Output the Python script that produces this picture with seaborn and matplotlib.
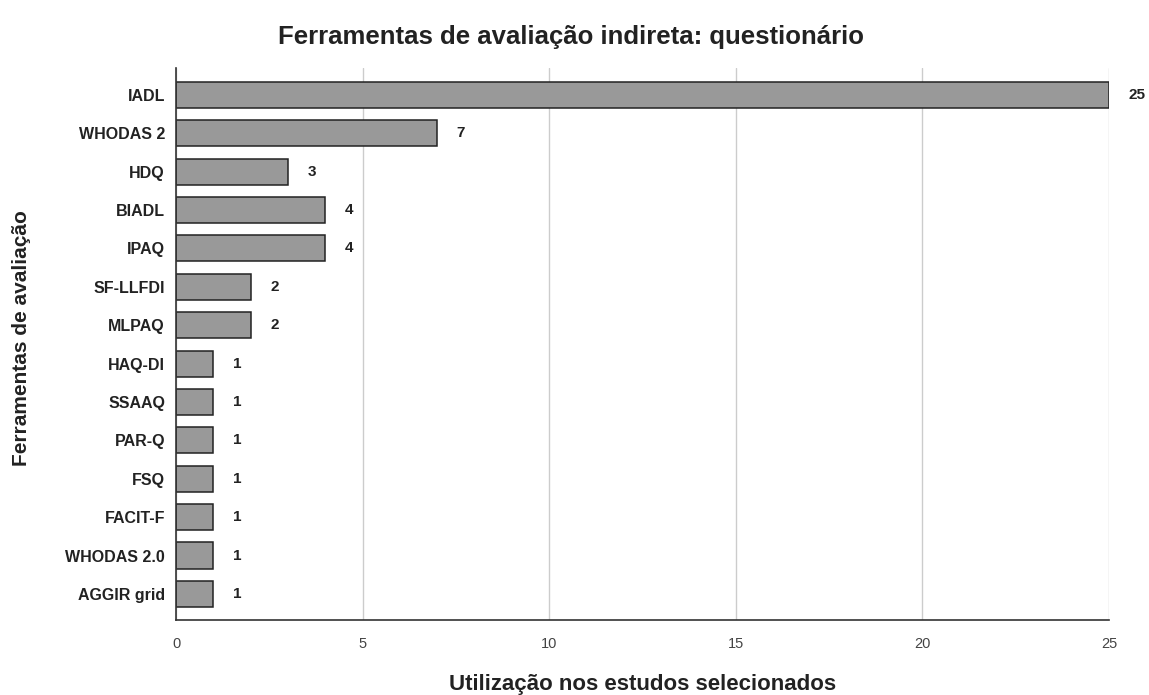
import matplotlib
matplotlib.use("Agg")
import matplotlib.pyplot as plt
import seaborn as sns
import pandas as pd

categories = ["IADL", "WHODAS 2", "HDQ", "BIADL", "IPAQ", "SF-LLFDI", "MLPAQ",
              "HAQ-DI", "SSAAQ", "PAR-Q", "FSQ", "FACIT-F", "WHODAS 2.0", "AGGIR grid"]
values = [25, 7, 3, 4, 4, 2, 2, 1, 1, 1, 1, 1, 1, 1]
x_ticks = [0, 5, 10, 15, 20, 25]

title = "Ferramentas de avaliação indireta: questionário"
xlabel = "Utilização nos estudos selecionados"
ylabel = "Ferramentas de avaliação"

sns.set_theme(style="white")
plt.rcParams["font.family"] = ["Liberation Sans", "DejaVu Sans"]

df = pd.DataFrame({"cat": categories, "val": values})

fig = plt.figure(figsize=(11.49, 6.95), dpi=100)
ax = fig.add_axes([0.1532, 0.1079, 0.8120, 0.7943])

sns.barplot(data=df, x="val", y="cat", orient="h", color="#999999",
            saturation=1, width=0.68, edgecolor="#222222", linewidth=1.1, ax=ax)

for p, v in zip(ax.patches, values):
    ax.annotate(str(v), (p.get_width(), p.get_y() + p.get_height() / 2),
                xytext=(14, 0), textcoords="offset points", ha="left", va="center",
                fontsize=11, fontweight="bold", color="#222222")

ax.set_xlim(0, 25)
ax.set_ylim(len(categories) - 1 + 0.68, -0.7)
ax.set_xticks(x_ticks)
ax.set_xticklabels([str(t) for t in x_ticks], fontsize=10.5, color="#444444")
ax.tick_params(axis="x", length=0, pad=12)
ax.tick_params(axis="y", length=0, pad=8)
for lbl in ax.get_yticklabels():
    lbl.set_fontsize(11.5)
    lbl.set_fontweight("bold")
    lbl.set_color("#222222")

ax.grid(axis="x", color="#cccccc", linewidth=1)
ax.set_axisbelow(True)
for s in ["top", "right"]:
    ax.spines[s].set_visible(False)
for s in ["left", "bottom"]:
    ax.spines[s].set_color("#333333")
    ax.spines[s].set_linewidth(1.2)

ax.set_xlabel("")
ax.set_ylabel("")
fig.text(0.5596, 0.0158, xlabel, ha="center", va="center", fontsize=16,
         fontweight="bold", color="#222222")
fig.text(0.0183, 0.5137, ylabel, ha="center", va="center", rotation=90,
         fontsize=15, fontweight="bold", color="#222222")
fig.text(0.497, 0.947, title, ha="center", va="center", fontsize=18.5,
         fontweight="bold", color="#222222")

fig.savefig("out.png", dpi=100, facecolor="white")
